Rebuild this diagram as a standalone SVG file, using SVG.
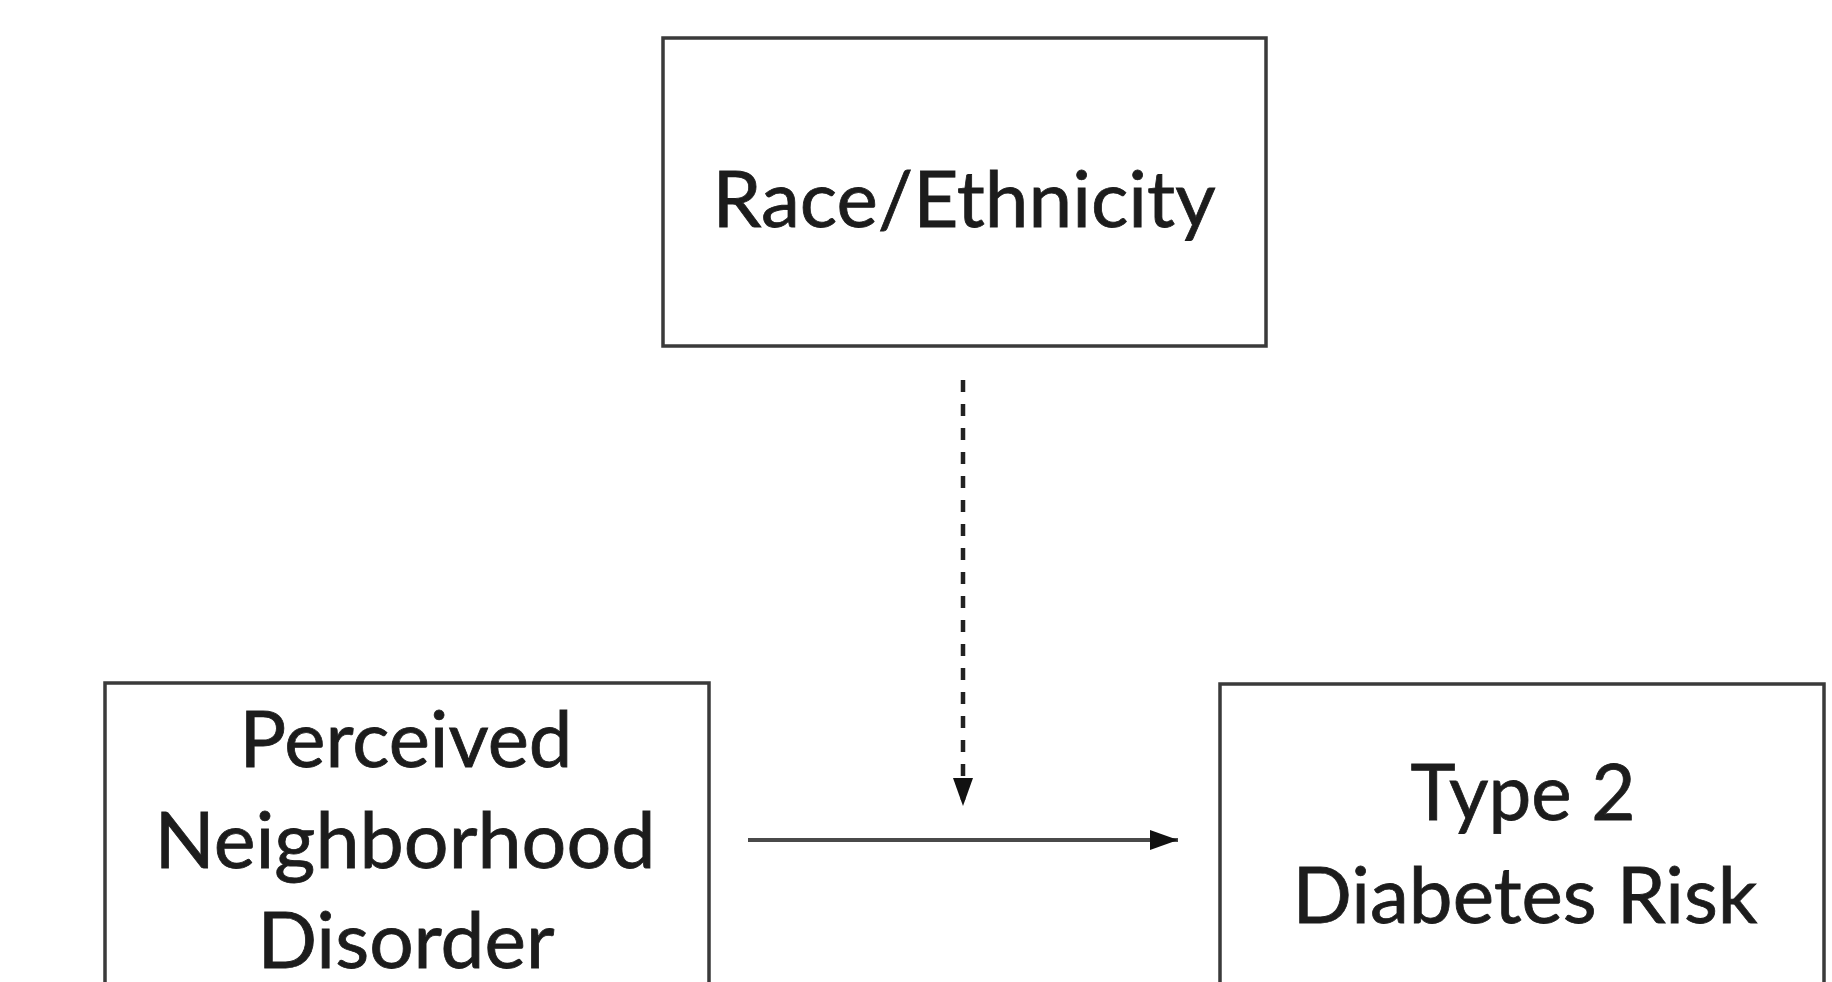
<svg xmlns="http://www.w3.org/2000/svg" width="1832" height="982" viewBox="0 0 1832 982">
<style>
.box{fill:#fff;stroke:#3a3a3a;stroke-width:3.5}
.lbl{font-family:Lato,"Open Sans","Liberation Sans",sans-serif;font-size:78px;fill:#1c1c1c;stroke:#1c1c1c;stroke-width:0.8;text-anchor:middle}
.conn{stroke:#4a4a4a;stroke-width:4;fill:none}
.dash{stroke:#222;stroke-width:4.5;fill:none;stroke-dasharray:12 12}
</style>
<defs>
<marker id="ah" markerUnits="userSpaceOnUse" markerWidth="30" markerHeight="20" refX="28" refY="10" orient="auto">
<path d="M0,0 L28,10 L0,20 Z" fill="#111"/>
</marker>
</defs>
<rect width="1832" height="982" fill="#fff"/>
<g id="race">
<rect class="box" x="663" y="38" width="603" height="308"/>
<text class="lbl" x="964" y="227" textLength="503" lengthAdjust="spacingAndGlyphs">Race/Ethnicity</text>
</g>
<g id="disorder">
<rect class="box" x="105" y="683" width="604" height="330"/>
<text class="lbl" x="406" y="767" textLength="333" lengthAdjust="spacingAndGlyphs">Perceived</text>
<text class="lbl" x="405" y="868" textLength="501" lengthAdjust="spacingAndGlyphs">Neighborhood</text>
<text class="lbl" x="406" y="968" textLength="297" lengthAdjust="spacingAndGlyphs">Disorder</text>
</g>
<g id="diabetes">
<rect class="box" x="1220" y="684" width="604" height="330"/>
<text class="lbl" x="1523" y="820" textLength="225" lengthAdjust="spacingAndGlyphs">Type 2</text>
<text class="lbl" x="1525" y="923" textLength="465" lengthAdjust="spacingAndGlyphs">Diabetes Risk</text>
</g>
<g id="connectors">
<line class="conn" x1="748" y1="840" x2="1178" y2="840" marker-end="url(#ah)"/>
<line class="dash" x1="963" y1="380" x2="963" y2="806" marker-end="url(#ah)"/>
</g>
</svg>
